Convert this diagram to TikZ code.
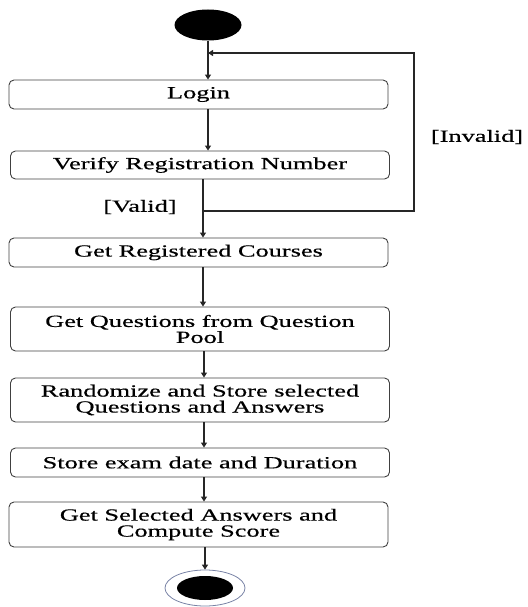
\documentclass[tikz,border=0pt]{standalone}
\usepackage{fontspec}
\newfontfamily\boxfont[FakeStretch=1.55,FakeBold=0.5]{Liberation Serif}
\usetikzlibrary{shapes.geometric,arrows.meta}
\begin{document}
\begin{tikzpicture}[x=1pt,y=-1pt]
        \tikzstyle{activity}=[rectangle,rounded corners=5pt,draw=black!75,line width=0.9pt,minimum width=379pt,align=center,font=\boxfont\fontsize{17}{16}\selectfont,inner sep=0pt]
        \tikzstyle{guard}=[font=\boxfont\fontsize{17}{16}\selectfont,inner sep=0pt]
        \tikzstyle{flow}=[draw=black!85,line width=1.1pt,-{Triangle[length=5pt,width=6pt]}]
        \useasboundingbox (0,0) rectangle (527,607);
       \begin{scope}
         \node [ellipse,fill=black,minimum width=67pt,minimum height=31pt,inner sep=0pt] (start) at (208,25) {};
         \node [activity,minimum height=29pt] (login) at (198.5,94.5) {Login};
         \node [activity,minimum height=28pt] (verify) at (200,165) {Verify Registration Number};
         \node [activity,minimum height=29pt] (courses) at (198.5,252.5) {Get Registered Courses};
         \node [activity,minimum height=44pt] (questions) at (200,329) {Get Questions from Question\\Pool};
         \node [activity,minimum height=44pt] (randomize) at (200,400) {Randomize and Store selected\\Questions and Answers};
         \node [activity,minimum height=29pt] (store) at (200,462.5) {Store exam date and Duration};
         \node [activity,minimum height=45pt] (score) at (198.5,524.5) {Get Selected Answers and\\Compute Score};
         \node [ellipse,draw={rgb,255:red,120;green,130;blue,165},line width=0.8pt,minimum width=80pt,minimum height=36pt,inner sep=0pt] (endring) at (205,588) {};
         \node [ellipse,fill=black,minimum width=56pt,minimum height=24pt,inner sep=0pt] (end) at (205,588) {};
         \node [guard] (valid) at (140,207) {[Valid]};
         \node [guard] (invalid) at (477,137) {[Invalid]};
         \coordinate (top) at (208,53);
         \coordinate (branch) at (203,211);
         \coordinate (rightturn) at (414,211);
         \coordinate (lower) at (204,0);
         \path[flow] (start.south) -- (start.south |- login.north);
         \path[flow] (login.south -| top) -- (verify.north -| top);
         \path[flow] (verify.south -| branch) -- (courses.north -| branch);
         \path[flow] (branch) -- (rightturn) |- (top);
         \path[flow] (courses.south -| branch) -- (questions.north -| branch);
         \path[flow] (questions.south -| lower) -- (randomize.north -| lower);
         \path[flow] (randomize.south -| lower) -- (store.north -| lower);
         \path[flow] (store.south -| lower) -- (score.north -| lower);
         \path[flow,line width=2.6pt] (score.south -| endring) -- (endring.north);
        \end{scope}
      \end{tikzpicture}
\end{document}
